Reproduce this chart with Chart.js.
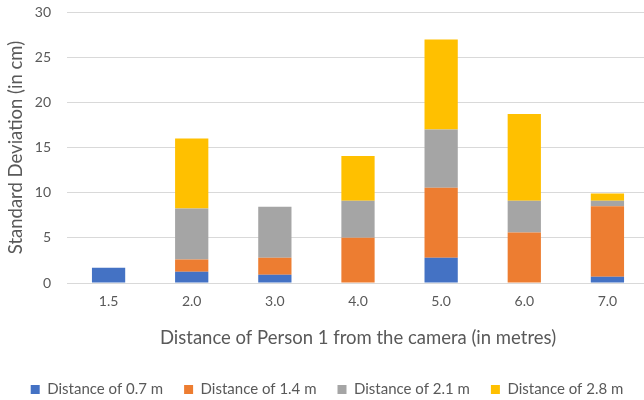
<!DOCTYPE html>
<html>
<head>
<meta charset="utf-8">
<script src="https://cdn.jsdelivr.net/npm/chart.js@4/dist/chart.umd.min.js"></script>
<style>
  html, body { margin: 0; padding: 0; background: #fff; overflow: hidden; }
  #wrap { width: 649px; height: 400px; }
</style>
</head>
<body>
<div id="wrap"><canvas id="sdChart"></canvas></div>
<script>
const categories = ["1.5", "2.0", "3.0", "4.0", "5.0", "6.0", "7.0"];
const dist07 = [1.7, 1.25, 0.9, 0, 2.8, 0, 0.7];
const dist14 = [0, 1.35, 1.9, 5.0, 7.75, 5.6, 7.8];
const dist21 = [0, 5.65, 5.65, 4.1, 6.45, 3.5, 0.6];
const dist28 = [0, 7.75, 0, 4.95, 9.95, 9.6, 0.8];
const yTicks = [0, 5, 10, 15, 20, 25, 30];

const txt = "#595959";
const font = "Lato, 'Open Sans', sans-serif";

document.addEventListener("DOMContentLoaded", function () {
  const ctx = document.getElementById("sdChart").getContext("2d");

  function ds(label, data, color) {
    return {
      label: label,
      data: data,
      backgroundColor: color,
      borderWidth: 0,
      barPercentage: 0.4,
      categoryPercentage: 1.0
    };
  }

  new Chart(ctx, {
    type: "bar",
    data: {
      labels: categories,
      datasets: [
        ds("Distance of 0.7 m", dist07, "#4472c4"),
        ds("Distance of 1.4 m", dist14, "#ed7d31"),
        ds("Distance of 2.1 m", dist21, "#a5a5a5"),
        ds("Distance of 2.8 m", dist28, "#ffc000")
      ]
    },
    options: {
      responsive: true,
      maintainAspectRatio: false,
      animation: false,
      layout: { padding: { top: 12, left: 5, right: 0, bottom: -7 } },
      scales: {
        x: {
          stacked: true,
          grid: { display: false },
          border: { color: "#d9d9d9" },
          ticks: { color: txt, font: { family: font, size: 14 }, padding: 2 },
          title: {
            display: true,
            text: "Distance of Person 1 from the camera (in metres)",
            color: txt,
            font: { family: font, size: 18.5 },
            padding: { top: 15, bottom: 12 }
          }
        },
        y: {
          stacked: true,
          min: 0,
          max: 30,
          afterBuildTicks: function (axis) {
            axis.ticks = yTicks.map(function (v) { return { value: v }; });
          },
          afterFit: function (axis) {
            axis.width = 62;
          },
          grid: {
            color: "#d9d9d9",
            lineWidth: 1,
            drawTicks: true,
            tickLength: 16,
            tickColor: "rgba(0,0,0,0)"
          },
          border: { display: false },
          ticks: { color: txt, font: { family: font, size: 14 }, padding: 0 },
          title: {
            display: true,
            text: "Standard Deviation (in cm)",
            color: txt,
            font: { family: font, size: 18.5 },
            padding: { top: 0, bottom: 0 }
          }
        }
      },
      plugins: {
        legend: {
          position: "bottom",
          labels: {
            color: txt,
            font: { family: font, size: 15 },
            boxWidth: 9,
            boxHeight: 9,
            padding: 21
          }
        },
        tooltip: { enabled: false }
      }
    }
  });
});
</script>
</body>
</html>
